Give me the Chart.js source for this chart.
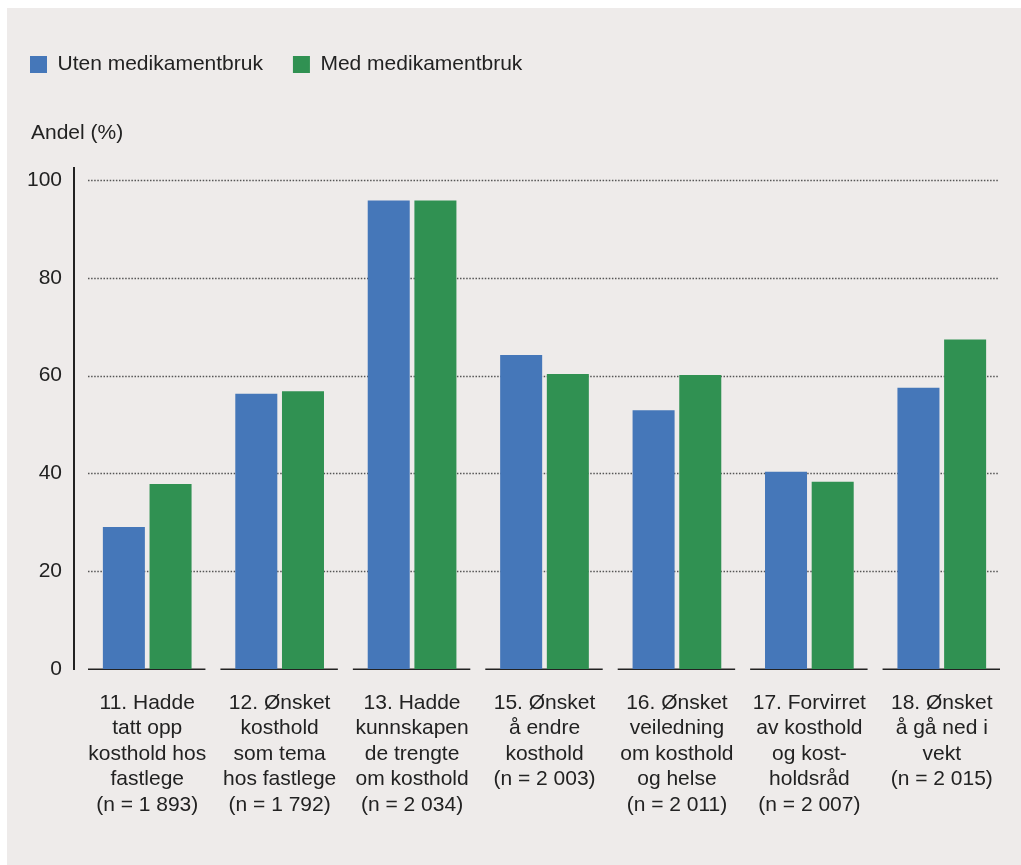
<!DOCTYPE html>
<html>
<head>
<meta charset="utf-8">
<script src="https://cdn.jsdelivr.net/npm/chart.js@4"></script>
<style>
  html, body { margin: 0; padding: 0; background: #ffffff; }
  #wrap { width: 1021px; height: 865px; position: relative; }
</style>
</head>
<body>
<div id="wrap"><canvas id="c" width="1021" height="865"></canvas></div>
<script>
const categories = [
  ["11. Hadde", "tatt opp", "kosthold hos", "fastlege", "(n = 1 893)"],
  ["12. Ønsket", "kosthold", "som tema", "hos fastlege", "(n = 1 792)"],
  ["13. Hadde", "kunnskapen", "de trengte", "om kosthold", "(n = 2 034)"],
  ["15. Ønsket", "å endre", "kosthold", "(n = 2 003)"],
  ["16. Ønsket", "veiledning", "om kosthold", "og helse", "(n = 2 011)"],
  ["17. Forvirret", "av kosthold", "og kost-", "holdsråd", "(n = 2 007)"],
  ["18. Ønsket", "å gå ned i", "vekt", "(n = 2 015)"]
];
const seriesNames = ["Uten medikamentbruk", "Med medikamentbruk"];
const utenValues = [29.0, 56.3, 95.8, 64.2, 52.9, 40.3, 57.5];
const medValues  = [37.8, 56.8, 95.8, 60.3, 60.1, 38.3, 67.4];
const yTicks = [0, 20, 40, 60, 80, 100];
const yTitle = "Andel (%)";

const FONT = "'Liberation Sans', Arial, sans-serif";
const TEXT = "#222222";

const legendSpace = {
  id: 'legendSpace',
  beforeInit(chart) {
    const lg = chart.legend;
    if (!lg) return;
    const origFit = lg.fit;
    lg.fit = function () {
      origFit.call(this);
      this.height += 95;
    };
  }
};

const decor = {
  id: 'decor',
  beforeDraw(chart) {
    const ctx = chart.ctx;
    ctx.save();
    ctx.fillStyle = '#EEEBEA';
    ctx.fillRect(7, 8, chart.width - 7, chart.height - 8);
    ctx.restore();
  },
  beforeDatasetsDraw(chart) {
    const ctx = chart.ctx;
    const x = chart.scales.x, y = chart.scales.y;
    const ca = chart.chartArea;
    const n = categories.length;
    const cw = (ca.right - ca.left) / n;
    ctx.save();
    // dotted gridlines
    ctx.strokeStyle = '#555555';
    ctx.lineWidth = 1.5;
    ctx.setLineDash([1.5, 1.6]);
    yTicks.forEach(v => {
      if (v === 0) return;
      const py = Math.round(y.getPixelForValue(v)) + 0.5;
      ctx.beginPath();
      ctx.moveTo(ca.left + 7, py);
      ctx.lineTo(ca.right - 10, py);
      ctx.stroke();
    });
    ctx.setLineDash([]);
    // baseline segments per category
    ctx.strokeStyle = '#222';
    ctx.lineWidth = 1.5;
    const by = y.getPixelForValue(0) + 0.25;
    for (let i = 0; i < n; i++) {
      const c = x.getPixelForValue(i);
      ctx.beginPath();
      ctx.moveTo(c - cw / 2 + 7, by);
      ctx.lineTo(c + cw / 2 - 8, by);
      ctx.stroke();
    }
    // y axis line
    ctx.lineWidth = 2;
    const ax = ca.left - 7;
    ctx.beginPath();
    ctx.moveTo(ax, y.getPixelForValue(100) - 13);
    ctx.lineTo(ax, y.getPixelForValue(0) + 1);
    ctx.stroke();
    // axis title
    ctx.fillStyle = TEXT;
    ctx.font = "21px " + FONT;
    ctx.textBaseline = 'middle';
    ctx.textAlign = 'left';
    ctx.fillText(yTitle, 31, 133);
    ctx.restore();
  }
};

new Chart(document.getElementById('c'), {
  type: 'bar',
  data: {
    labels: categories,
    datasets: [
      { label: seriesNames[0], data: utenValues, backgroundColor: '#4577B9', borderWidth: 0,
        categoryPercentage: 0.705, barPercentage: 0.9 },
      { label: seriesNames[1], data: medValues, backgroundColor: '#309152', borderWidth: 0,
        categoryPercentage: 0.705, barPercentage: 0.9 }
    ]
  },
  options: {
    responsive: false,
    animation: false,
    devicePixelRatio: 1,
    layout: { padding: { left: 0, right: 13, top: 24, bottom: 26 } },
    plugins: {
      tooltip: { enabled: false },
      title: { display: false },
      legend: {
        display: true,
        position: 'top',
        align: 'start',
        labels: {
          boxWidth: 17,
          boxHeight: 17,
          padding: 30,
          color: TEXT,
          font: { family: FONT, size: 21 }
        }
      }
    },
    scales: {
      x: {
        grid: { display: false, drawTicks: false },
        border: { display: false },
        ticks: {
          color: TEXT,
          padding: 21,
          maxRotation: 0,
          autoSkip: false,
          font: { family: FONT, size: 21, lineHeight: 1.22 }
        }
      },
      y: {
        min: 0, max: 100,
        afterFit(scale) { scale.width = 81; },
        afterBuildTicks(scale) { scale.ticks = yTicks.map(v => ({ value: v })); },
        grid: { display: false, drawTicks: false },
        border: { display: false },
        ticks: {
          color: TEXT,
          padding: 19,
          font: { family: FONT, size: 21 }
        }
      }
    }
  },
  plugins: [legendSpace, decor]
});
</script>
</body>
</html>
